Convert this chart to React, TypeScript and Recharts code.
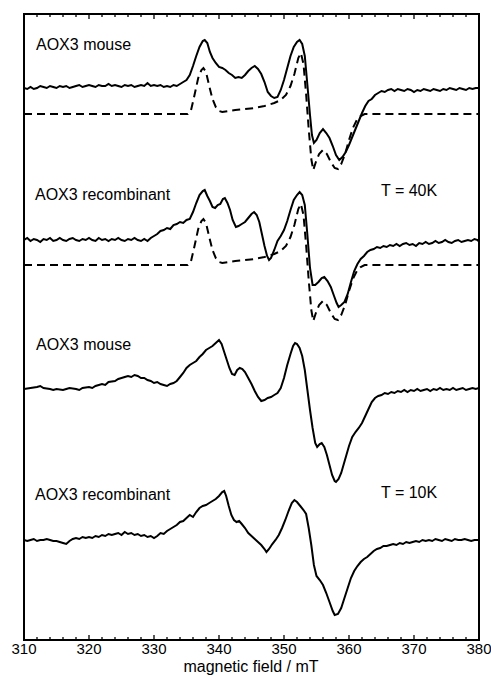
import React from 'react';
import { LineChart, Line, XAxis, YAxis, ReferenceArea } from 'recharts';

// First-derivative EPR spectra of AOX3, field in mT, signal in arbitrary units
// (each spectrum relative to its own baseline; stacked by the offsets below).

const fieldTicks = [
  310, 312, 314, 316, 318, 320, 322, 324, 326, 328, 330, 332, 334, 336, 338, 340, 342, 344,
  346, 348, 350, 352, 354, 356, 358, 360, 362, 364, 366, 368, 370, 372, 374, 376, 378, 380,
];

// T = 40 K, AOX3 mouse (experimental)
const mouse40K: [number, number][] = [
  [310, 0], [310.5, -1], [311, 1], [311.5, -1], [312, 0], [312.5, 2], [313, 1], [313.5, 0], [314, 2],
  [314.5, 1], [315, 0], [315.5, 2], [316, 1], [316.5, 2], [317, 0], [317.5, 1], [318, 2], [318.5, 3],
  [319, 1], [319.5, 2], [320, 3], [320.5, 2], [321, 1], [321.5, 3], [322, 2], [322.5, 2], [323, 4],
  [323.5, 2], [324, 3], [324.5, 2], [325, 1], [325.5, 3], [326, 2], [326.5, 3], [327, 1], [327.5, 2],
  [328, 3], [328.5, 2], [329, 5], [329.5, 2], [330, 3], [330.5, 2], [331, 3], [331.5, 1], [332, 2],
  [332.5, 1], [333, 3], [333.5, 2], [334, 4], [334.5, 6], [335, 8], [335.5, 13], [336, 22], [336.5, 32],
  [337, 41], [337.5, 47], [337.8, 48], [338.2, 45], [338.6, 36], [339, 30], [339.5, 25], [340, 21],
  [340.5, 20], [341, 18], [341.5, 15], [342, 13], [342.5, 10], [343, 11], [343.5, 10], [344, 13],
  [344.5, 17], [345, 20], [345.5, 22], [346, 19], [346.5, 14], [347, 6], [347.5, -4], [348, -8],
  [348.5, -10], [349, -9], [349.5, -2], [350, 8], [350.5, 20], [351, 32], [351.5, 41], [352, 46],
  [352.4, 48], [352.8, 44], [353.2, 32], [353.6, 3], [354, -27], [354.3, -47], [354.6, -55], [355, -52],
  [355.5, -45], [356, -41], [356.5, -45], [357, -50], [357.5, -58], [358, -67], [358.5, -72], [359, -69],
  [359.5, -64], [360, -57], [360.5, -49], [361, -41], [361.5, -33], [362, -25], [362.5, -18], [363, -13],
  [363.5, -11], [364, -7], [364.5, -5], [365, -3], [365.5, -4], [366, -2], [366.5, -1], [367, -3],
  [367.5, -1], [368, -2], [368.5, -3], [369, -1], [369.5, -2], [370, -4], [370.5, -2], [371, -3],
  [371.5, -1], [372, -2], [372.5, -3], [373, -1], [373.5, -2], [374, -3], [374.5, -1], [375, -2],
  [375.5, 0], [376, -1], [376.5, -2], [377, 0], [377.5, -1], [378, -2], [378.5, 0], [379, -1],
  [379.5, 0], [380, 0],
];

// T = 40 K, AOX3 recombinant (experimental)
const recombinant40K: [number, number][] = [
  [310, 0], [310.5, 2], [311, -1], [311.5, 1], [312, 0], [312.5, -2], [313, 1], [313.5, 0], [314, 2],
  [314.5, -1], [315, 0], [315.5, 2], [316, 0], [316.5, -1], [317, 1], [317.5, 2], [318, 0], [318.5, -1],
  [319, 1], [319.5, 0], [320, 2], [320.5, 0], [321, -1], [321.5, 2], [322, 0], [322.5, 1], [323, -1],
  [323.5, 1], [324, 0], [324.5, 2], [325, 0], [325.5, -1], [326, 1], [326.5, 0], [327, 2], [327.5, 0],
  [328, -1], [328.5, 1], [329, -1], [329.5, 2], [330, 4], [330.5, 6], [331, 9], [331.5, 10], [332, 12],
  [332.5, 11], [333, 15], [333.5, 16], [334, 18], [334.5, 17], [335, 20], [335.5, 21], [336, 28],
  [336.5, 37], [337, 45], [337.5, 49], [337.8, 50], [338.2, 44], [338.6, 39], [339, 33], [339.4, 32],
  [339.8, 35], [340.2, 36], [340.6, 41], [340.9, 42], [341.3, 37], [341.7, 30], [342.1, 20], [342.6, 13],
  [343, 14], [343.5, 16], [344, 18], [344.5, 22], [345, 26], [345.4, 28], [345.8, 25], [346.2, 18],
  [346.6, 6], [347, -6], [347.4, -16], [347.7, -20], [348, -18], [348.5, -10], [349, -1], [349.5, 4],
  [350, 10], [350.5, 19], [351, 30], [351.5, 40], [352, 45], [352.4, 48], [352.8, 45], [353.2, 35],
  [353.6, 5], [354, -28], [354.4, -45], [354.8, -45], [355.3, -42], [355.8, -38], [356.2, -37],
  [356.7, -41], [357.2, -47], [357.7, -56], [358.1, -63], [358.4, -67], [358.8, -65], [359.3, -62],
  [359.8, -54], [360.3, -42], [360.8, -31], [361.3, -24], [361.8, -19], [362.3, -16], [362.8, -12],
  [363.3, -10], [363.8, -9], [364.3, -7], [364.8, -8], [365.3, -6], [365.8, -7], [366.3, -5], [366.8, -6],
  [367.3, -4], [367.8, -6], [368.3, -4], [368.8, -3], [369.3, -5], [369.8, -4], [370.3, -6], [370.8, -3],
  [371.3, -4], [371.8, -2], [372.3, -4], [372.8, -3], [373.3, -1], [373.8, -3], [374.3, -2], [374.8, 0],
  [375.3, -2], [375.8, -3], [376.3, -1], [376.8, 0], [377.3, -2], [377.8, -1], [378.3, 0], [378.8, -1],
  [379.3, 1], [379.8, 0], [380, -2],
];

// Simulated 40 K spectrum (dashed), drawn under both 40 K traces
const simulation40K: [number, number][] = [
  [310, 0], [335.2, 0], [335.7, 4], [336.2, 18], [336.8, 36], [337.3, 44], [337.6, 46], [338, 42],
  [338.5, 28], [339, 15], [339.5, 7], [340, 3], [340.5, 2], [341.5, 3], [342.5, 4], [344, 5], [345.5, 6],
  [347, 8], [348.5, 11], [349.5, 14], [350.3, 19], [351, 28], [351.6, 40], [352.2, 56], [352.6, 61],
  [353, 50], [353.4, 20], [353.8, -15], [354.2, -45], [354.5, -56], [354.9, -48], [355.4, -40], [356, -36],
  [356.6, -40], [357.2, -48], [357.8, -54], [358.3, -55], [358.8, -50], [359.4, -40], [360, -26],
  [360.6, -14], [361.2, -6], [361.8, -2], [362.4, 0], [380, 0],
];

// T = 10 K, AOX3 mouse
const mouse10K: [number, number][] = [
  [310, 0], [311, 1], [312, 2], [312.5, 3], [313, 1], [314, 0], [314.5, -1], [315, 0], [316, -1],
  [316.5, 0], [317, 1], [318, 0], [318.5, -1], [319, 1], [320, 2], [320.5, 1], [321, 3], [322, 5],
  [322.5, 4], [323, 7], [324, 8], [324.5, 10], [325, 11], [325.5, 12], [326, 13], [326.5, 12], [327, 14],
  [327.5, 13], [328, 11], [328.5, 11], [329, 9], [329.5, 8], [330, 6], [330.5, 7], [331, 5], [331.5, 4],
  [332, 3], [332.5, 5], [333, 6], [333.5, 8], [334, 12], [334.5, 16], [335, 21], [335.5, 24], [336, 26],
  [336.5, 28], [337, 32], [337.5, 35], [338, 39], [338.5, 41], [339, 43], [339.5, 46], [340, 49],
  [340.4, 45], [340.8, 37], [341.2, 29], [341.6, 21], [342, 15], [342.4, 14], [342.8, 19], [343.2, 21],
  [343.6, 20], [344, 17], [344.5, 11], [345, 5], [345.5, -2], [346, -8], [346.5, -12], [347, -11],
  [347.5, -9], [348, -8], [348.5, -6], [349, -4], [349.5, 1], [350, 11], [350.5, 24], [351, 35],
  [351.4, 43], [351.7, 46], [352, 45], [352.4, 41], [352.8, 33], [353.2, 19], [353.6, -1], [354, -21],
  [354.4, -39], [354.8, -54], [355.1, -58], [355.5, -55], [355.8, -54], [356.2, -58], [356.6, -66],
  [357, -76], [357.4, -86], [357.8, -92], [358, -93], [358.4, -90], [358.8, -84], [359.2, -75],
  [359.6, -66], [360, -57], [360.5, -48], [361, -43], [361.5, -39], [362, -34], [362.5, -27], [363, -20],
  [363.5, -13], [364, -9], [364.5, -7], [365, -6], [365.5, -4], [366, -5], [366.5, -3], [367, -4],
  [367.5, -2], [368, -3], [368.5, -1], [369, -3], [369.5, -1], [370, -2], [370.5, 0], [371, -2],
  [371.5, -1], [372, 0], [372.5, -2], [373, 0], [373.5, -1], [374, 1], [374.5, -1], [375, 0],
  [375.5, -1], [376, 1], [376.5, -1], [377, 0], [377.5, 1], [378, -1], [378.5, 0], [379, 1], [379.5, 0],
  [380, 1],
];

// T = 10 K, AOX3 recombinant
const recombinant10K: [number, number][] = [
  [310, 0], [310.5, -1], [311, 0], [311.5, 1], [312, -1], [312.5, 0], [313, 0], [313.5, 1], [314, 0],
  [314.5, -1], [315, -1], [315.5, -2], [316, -3], [316.5, -4], [317, -1], [317.5, 1], [318, 2],
  [318.5, 1], [319, 3], [319.5, 2], [320, 3], [320.5, 2], [321, 4], [321.5, 3], [322, 5], [322.5, 4],
  [323, 6], [323.5, 5], [324, 6], [324.5, 7], [325, 5], [325.5, 8], [326, 6], [326.5, 7], [327, 5],
  [327.5, 6], [328, 4], [328.5, 5], [329, 3], [329.5, 4], [330, 2], [330.5, 4], [331, 7], [331.5, 6],
  [332, 9], [332.5, 11], [333, 13], [333.5, 15], [334, 18], [334.5, 19], [335, 22], [335.5, 25],
  [336, 23], [336.5, 28], [337, 32], [337.5, 34], [338, 35], [338.5, 37], [339, 39], [339.5, 41],
  [340, 44], [340.5, 48], [340.8, 49], [341.1, 44], [341.5, 34], [341.9, 25], [342.3, 20], [342.7, 18],
  [343.1, 19], [343.5, 16], [344, 12], [344.5, 7], [345, 4], [345.5, 1], [346, -2], [346.5, -5],
  [347, -9], [347.3, -12], [347.7, -9], [348.2, -4], [348.7, 0], [349.2, 5], [349.7, 12], [350.2, 20],
  [350.7, 29], [351.2, 37], [351.6, 40], [352, 38], [352.5, 34], [353, 30], [353.4, 26], [353.8, 12],
  [354.2, -5], [354.6, -25], [355, -36], [355.5, -40], [356, -45], [356.5, -53], [357, -62], [357.5, -71],
  [357.8, -75], [358.3, -74], [358.8, -68], [359.3, -58], [359.8, -48], [360.3, -38], [360.8, -31],
  [361.3, -26], [361.8, -22], [362.3, -19], [362.8, -17], [363.3, -14], [363.8, -11], [364.3, -9],
  [364.8, -8], [365.3, -6], [365.8, -6], [366.3, -5], [366.8, -4], [367.3, -5], [367.8, -3], [368.3, -4],
  [368.8, -2], [369.3, -3], [369.8, -2], [370.3, -1], [370.8, -2], [371.3, 0], [371.8, -1], [372.3, 0],
  [372.8, -1], [373.3, 1], [373.8, 0], [374.3, -1], [374.8, 1], [375.3, 0], [375.8, -1], [376.3, 1],
  [376.8, 0], [377.3, 0], [377.8, 1], [378.3, 0], [378.8, -1], [379.3, 0], [380, 0],
];

// Vertical stacking offsets (same arbitrary units as the signals)
const offsets = {
  mouse40K: 552,
  sim40KMouse: 526,
  recombinant40K: 400,
  sim40KRecombinant: 375,
  mouse10K: 251,
  recombinant10K: 100,
};

const Y_RANGE: [number, number] = [0, 626];

const stack = (pts: [number, number][], offset: number) =>
  pts.map(([field, s]) => ({ field, v: offset + s }));

const FONT = '"Liberation Sans", Arial, Helvetica, sans-serif';

const BottomTick = (props: any) => {
  const { x, y, payload } = props;
  const major = payload.value % 10 === 0;
  return (
    <g>
      <line x1={x} x2={x} y1={y} y2={y - (major ? 5 : 3)} stroke="#000" strokeWidth={1.3} />
      {major && (
        <text x={x} y={y + 14} textAnchor="middle" fontSize={15} fontFamily={FONT} fill="#000">
          {payload.value}
        </text>
      )}
    </g>
  );
};

const TopTick = (props: any) => {
  const { x, y, payload } = props;
  const major = payload.value % 10 === 0;
  return <line x1={x} x2={x} y1={y} y2={y + (major ? 5 : 3)} stroke="#000" strokeWidth={1.3} />;
};

const labelStyle = { fontSize: 16, fontFamily: FONT, fill: '#000' };

export default function App() {
  const solid = { type: 'linear' as const, dataKey: 'v', stroke: '#000', strokeWidth: 2, dot: false, isAnimationActive: false };
  const dashed = { ...solid, strokeDasharray: '8 5' };
  return (
    <div style={{ position: 'absolute', left: 0, top: 0, width: 491, height: 680, background: '#fff' }}>
      <LineChart width={491} height={680} margin={{ top: 0, right: 12, bottom: 0, left: 24 }}>
        <XAxis
          dataKey="field"
          type="number"
          domain={[310, 380]}
          ticks={fieldTicks}
          interval={0}
          allowDataOverflow
          axisLine={false}
          tickLine={false}
          tickSize={0}
          tickMargin={0}
          height={40}
          tick={<BottomTick />}
        />
        <XAxis
          xAxisId="top"
          orientation="top"
          dataKey="field"
          type="number"
          domain={[310, 380]}
          ticks={fieldTicks}
          interval={0}
          allowDataOverflow
          axisLine={false}
          tickLine={false}
          tickSize={0}
          tickMargin={0}
          height={14}
          tick={<TopTick />}
        />
        <YAxis type="number" domain={Y_RANGE} hide allowDataOverflow />
        <Line {...dashed} data={stack(simulation40K, offsets.sim40KMouse)} />
        <Line {...solid} data={stack(mouse40K, offsets.mouse40K)} />
        <Line {...dashed} data={stack(simulation40K, offsets.sim40KRecombinant)} />
        <Line {...solid} data={stack(recombinant40K, offsets.recombinant40K)} />
        <Line {...solid} data={stack(mouse10K, offsets.mouse10K)} />
        <Line {...solid} data={stack(recombinant10K, offsets.recombinant10K)} />
        <ReferenceArea
          x1={310}
          x2={380}
          y1={Y_RANGE[0]}
          y2={Y_RANGE[1]}
          fill="none"
          stroke="#000"
          strokeWidth={2}
          ifOverflow="visible"
        />
        <text x={36} y={50} {...labelStyle}>AOX3 mouse</text>
        <text x={35} y={200} {...labelStyle}>AOX3 recombinant</text>
        <text x={381} y={196} {...labelStyle}>T = 40K</text>
        <text x={36} y={350} {...labelStyle}>AOX3 mouse</text>
        <text x={35} y={500} {...labelStyle}>AOX3 recombinant</text>
        <text x={381} y={498} {...labelStyle}>T = 10K</text>
        <text x={251} y={672} textAnchor="middle" {...labelStyle}>magnetic field / mT</text>
      </LineChart>
    </div>
  );
}
